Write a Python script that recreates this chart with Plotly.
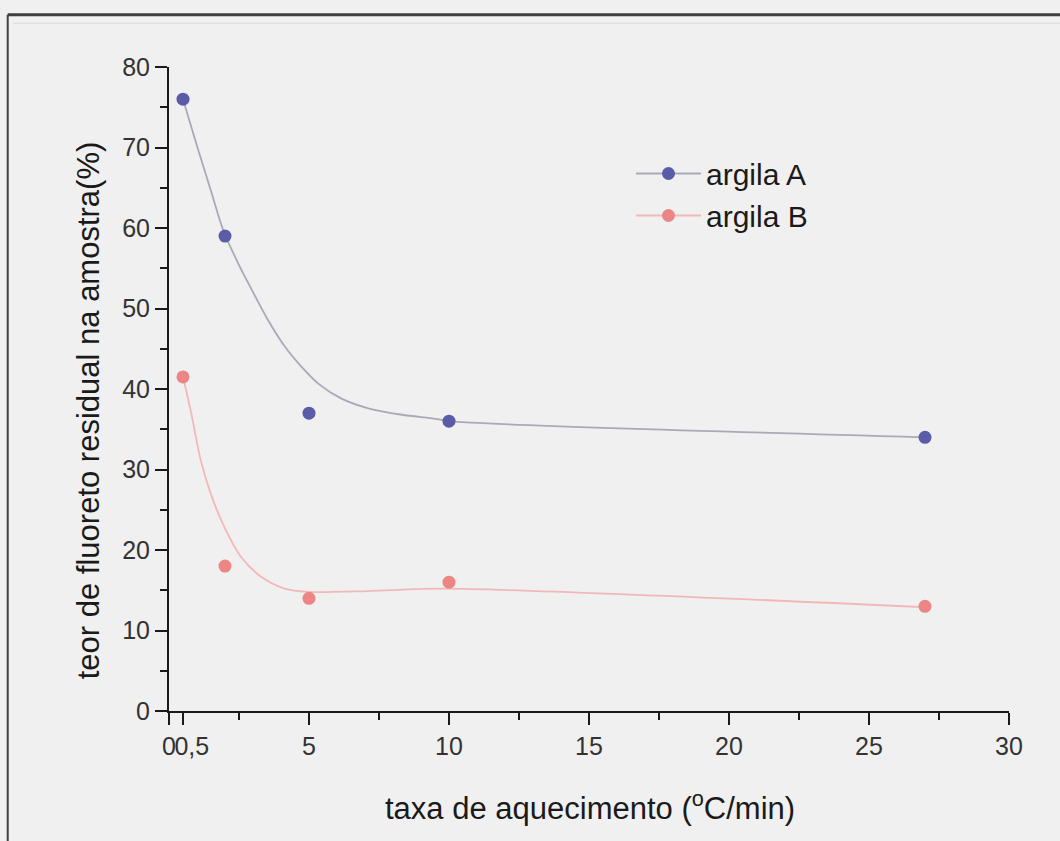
import plotly.graph_objects as go

# measured points
rate = [0.5, 2, 5, 10, 27]
argila_a = [76, 59, 37, 36, 34]
argila_b = [41.5, 18, 14, 16, 13]

# fitted curves
fit_x_a = [0.5, 1.0, 1.5, 1.95, 2.5, 2.93, 3.53, 4.13, 4.72, 5.32, 6.16, 7.12, 8.32, 9.52, 10, 27]
fit_a = [76, 70.2, 64.6, 59.6, 55.4, 52.5, 48.6, 45.3, 42.8, 40.7, 38.8, 37.6, 36.8, 36.3, 36.0, 34.0]
fit_x_b = [0.5, 0.77, 1.13, 1.49, 1.97, 2.56, 3.28, 4.13, 4.96, 7.12, 9.88, 27]
fit_b = [41.5, 37.4, 31.2, 27.0, 22.9, 19.2, 16.7, 15.2, 14.8, 14.9, 15.2, 12.9]

x_tickvals = [0, 0.5, 5, 10, 15, 20, 25, 30]
x_ticktext = ["0", "\u2002\u20090,5", "5", "10", "15", "20", "25", "30"]
x_minor = [2.5, 7.5, 12.5, 17.5, 22.5, 27.5]
y_tickvals = [0, 10, 20, 30, 40, 50, 60, 70, 80]
y_minor = [5, 15, 25, 35, 45, 55, 65, 75]

x_title = "taxa de aquecimento (<sup>o</sup>C/min)"
y_title = "teor de fluoreto residual na amostra(%)"

col_a = "#5a5ca8"
col_b = "#ec8585"
line_a = "#a9a9b8"
line_b = "#f2b8b8"
ink = "#1a1a1a"
font_family = "Liberation Sans, Arial, sans-serif"

fig = go.Figure()
fig.add_trace(go.Scatter(x=fit_x_a, y=fit_a, mode="lines",
                         line=dict(color=line_a, width=1.8, shape="spline", smoothing=0.8),
                         showlegend=False, hoverinfo="skip"))
fig.add_trace(go.Scatter(x=fit_x_b, y=fit_b, mode="lines",
                         line=dict(color=line_b, width=1.8, shape="spline", smoothing=0.8),
                         showlegend=False, hoverinfo="skip"))
fig.add_trace(go.Scatter(x=rate, y=argila_a, mode="markers", showlegend=False,
                         marker=dict(color=col_a, size=13)))
fig.add_trace(go.Scatter(x=rate, y=argila_b, mode="markers", showlegend=False,
                         marker=dict(color=col_b, size=13)))
# legend entries (symbol = line + marker, as in the reference)
fig.add_trace(go.Scatter(x=[None], y=[None], mode="markers+lines", name="argila A",
                         line=dict(color=line_a, width=1.8), marker=dict(color=col_a, size=13)))
fig.add_trace(go.Scatter(x=[None], y=[None], mode="markers+lines", name="argila B",
                         line=dict(color=line_b, width=1.8), marker=dict(color=col_b, size=13)))

fig.update_layout(
    width=1060, height=841,
    margin=dict(l=169, r=51, t=67, b=130),
    paper_bgcolor="#f0f0f0", plot_bgcolor="#f0f0f0",
    font=dict(family=font_family, color=ink, size=25),
    legend=dict(x=0.55, y=0.875, xanchor="left", yanchor="top", bgcolor="rgba(0,0,0,0)",
                font=dict(size=30, color=ink), itemwidth=65, tracegroupgap=0),
    xaxis=dict(range=[0, 30], tickvals=x_tickvals, ticktext=x_ticktext, tickangle=0,
               ticks="outside", ticklen=12, tickwidth=2,
               tickcolor=ink, showline=True, linecolor=ink, linewidth=2, showgrid=False, zeroline=False,
               minor=dict(tickvals=x_minor, ticks="outside", ticklen=7, tickwidth=2, tickcolor=ink),
               tickfont=dict(size=25, color="#333333")),
    yaxis=dict(range=[0, 80], tickvals=y_tickvals, ticks="outside", ticklen=12, tickwidth=2,
               tickcolor=ink, showline=True, linecolor=ink, linewidth=2, showgrid=False, zeroline=False,
               minor=dict(tickvals=y_minor, ticks="outside", ticklen=7, tickwidth=2, tickcolor=ink),
               tickfont=dict(size=25, color="#333333")),
    annotations=[
        dict(text=x_title, xref="paper", yref="paper", x=0.501, y=-0.1475, xanchor="center", yanchor="middle",
             showarrow=False, font=dict(size=31, color=ink)),
        dict(text=y_title, xref="paper", yref="paper", x=-0.0964, y=0.467, xanchor="center", yanchor="middle",
             textangle=-90, showarrow=False, font=dict(size=31, color=ink)),
    ],
    shapes=[
        dict(type="line", xref="paper", yref="paper", x0=-0.192, x1=1.07, y0=1.081, y1=1.081,
             line=dict(color="#404040", width=3)),
        dict(type="line", xref="paper", yref="paper", x0=-0.192, x1=-0.192, y0=1.081, y1=-0.21,
             line=dict(color="#404040", width=2)),
        dict(type="line", xref="paper", yref="paper", x0=-0.185, x1=1.07, y0=1.068, y1=1.068,
             line=dict(color="#d8d8d8", width=1)),
    ],
)

fig.write_html("out.html")
